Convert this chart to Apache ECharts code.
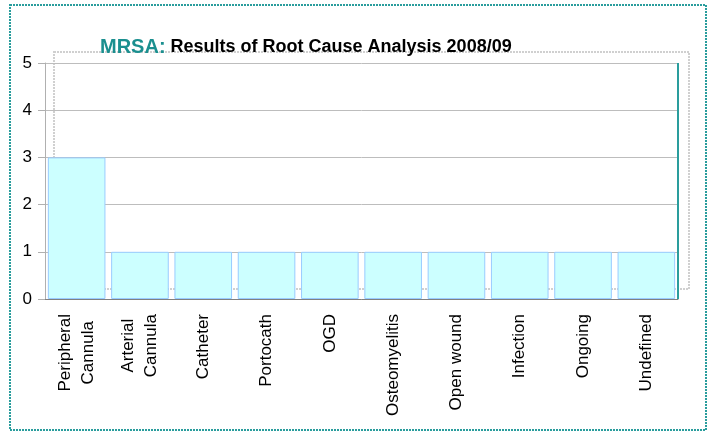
<!DOCTYPE html>
<html><head><meta charset="utf-8">
<script src="https://cdn.jsdelivr.net/npm/echarts@6/dist/echarts.min.js"></script>
<style>html,body{margin:0;padding:0;background:#fff}#c{width:714px;height:434px}</style>
</head><body><div id="c"></div>
<script>
const categories = ['Peripheral\nCannula','Arterial\nCannula','Catheter','Portocath','OGD','Osteomyelitis','Open wound','Infection','Ongoing','Undefined'];
const values = [3,1,1,1,1,1,1,1,1,1];
const yTicks = [0,1,2,3,4,5];

const chart = echarts.init(document.getElementById('c'));
chart.setOption({
  animation:false,
  textStyle:{fontFamily:'Liberation Sans, Arial, sans-serif'},
  title:{
    left:95, top:32,
    text:'{a|MRSA:} {b|Results of Root Cause Analysis 2008/09}',
    textStyle:{rich:{
      a:{fontSize:20,fontWeight:'bold',color:'#1A8F8F',fontFamily:'Liberation Sans, Arial'},
      b:{fontSize:18,fontWeight:'bold',color:'#000',fontFamily:'Liberation Sans, Arial'}
    }}
  },
  graphic:[
    {type:'rect',z:-1,shape:{x:10,y:5,width:696,height:425},style:{fill:null,stroke:'#2A9D9D',lineWidth:2,lineDash:[2,1]}},
    {type:'rect',z:-1,shape:{x:54,y:52,width:635,height:237},style:{fill:null,stroke:'#D0D0D0',lineWidth:2,lineDash:[2,1]}},
    {type:'line',z:10,shape:{x1:678,y1:63,x2:678,y2:299},style:{stroke:'#2A9D9D',lineWidth:2}}
  ],
  grid:{left:45,right:36,top:63,bottom:135},
  xAxis:{
    type:'category', data:categories,
    axisLine:{lineStyle:{color:'#808080'}},
    axisTick:{show:false},
    axisLabel:{rotate:90,color:'#000',margin:15,interval:0,
      formatter:v=>v.split('\n').map(s=>'{c|'+s+'}').join('\n'),
      rich:{c:{fontSize:17,lineHeight:23,align:'center',color:'#000',fontFamily:'Liberation Sans, Arial'}}
    }
  },
  yAxis:{
    type:'value', min:0, max:5, interval:1,
    axisLine:{show:true,lineStyle:{color:'#B0B0B0'}},
    axisTick:{show:true,length:7,lineStyle:{color:'#B0B0B0'}},
    axisLabel:{fontSize:17,color:'#000',margin:13,formatter:v=>yTicks.includes(v)?String(v):''},
    splitLine:{lineStyle:{color:'#BDBDBD',width:1}}
  },
  series:[{
    type:'bar', data:values, barCategoryGap:'9%',
    itemStyle:{color:'#CCFFFF',borderColor:'#99CCFF',borderWidth:1}
  }]
});
</script></body></html>
